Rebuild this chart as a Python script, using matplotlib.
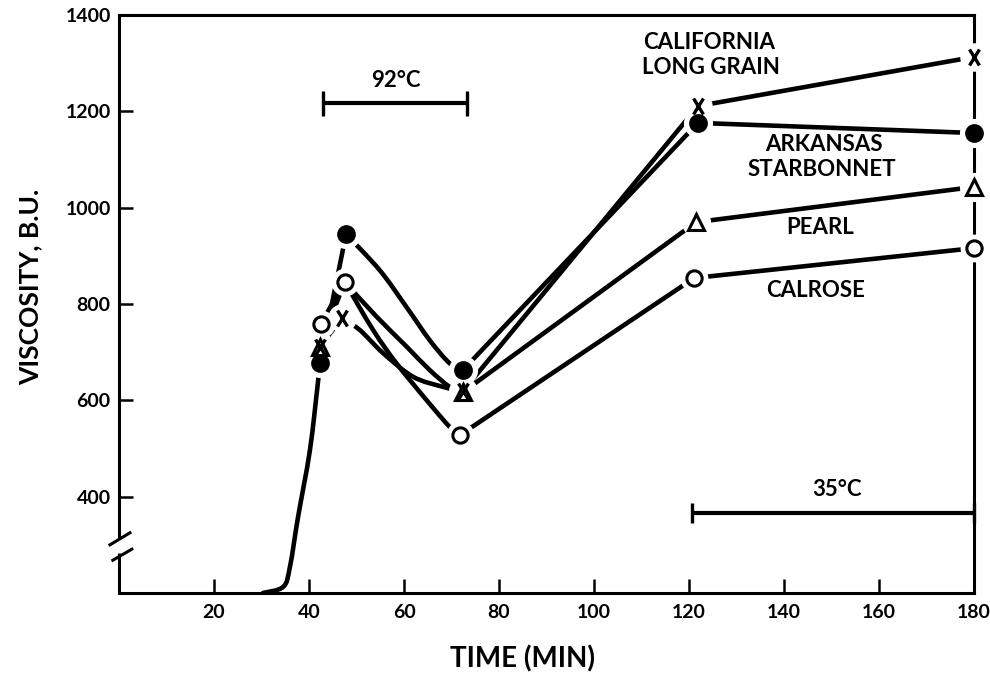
import numpy as np
import matplotlib
matplotlib.use("Agg")
import matplotlib.pyplot as plt
from matplotlib.path import Path
from matplotlib.patches import PathPatch

plt.rcParams['font.family'] = ['Lato', 'DejaVu Sans']
plt.rcParams['font.weight'] = 'bold'

# ---------------- data ----------------
# common heating trace (amylograph curve rising from baseline)
heat_t = [30.3, 34.6, 36.0, 37.7, 40.2, 41.9]
heat_v = [200, 213, 255, 358, 497, 639]

# marker points: start of hold, peak, end of 92C hold, start of 35C hold, end
ark_t = [42.3, 47.8, 72.4, 121.9, 180.0]
ark_v = [677, 945, 663, 1176, 1155]
calif_t = [42.3, 46.9, 72.4, 121.9, 180.0]
calif_v = [711, 771, 619, 1211, 1313]
pearl_t = [42.3, 47.5, 72.4, 121.5, 180.0]
pearl_v = [711, 846, 617, 970, 1043]
calrose_t = [42.5, 47.5, 71.8, 121.1, 180.0]
calrose_v = [759, 846, 528, 854, 916]

# traced points of the breakdown curves between peak and end of 92C hold
ark_dip_t = [54.9, 60.5, 65.4, 69.6]
ark_dip_v = [870, 794, 725, 677]
calif_dip_t = [50.7, 55.6, 61.9, 68.2]
calif_dip_v = [746, 698, 649, 628]
pearl_dip_t = [54.2, 60.5, 65.4, 69.6]
pearl_dip_v = [774, 712, 663, 628]
calrose_dip_t = [53.5, 58.4, 64.7, 69.6]
calrose_dip_v = [746, 677, 601, 545]

x_ticks = [20, 40, 60, 80, 100, 120, 140, 160, 180]
y_ticks = [400, 600, 800, 1000, 1200, 1400]

hold92 = [43.0, 73.2]
hold35 = [120.6, 180.0]

# ---------------- figure ----------------
fig = plt.figure(figsize=(9.9, 6.75), dpi=100)
ax = fig.add_axes([119 / 990, 82 / 675, 855 / 990, 578 / 675])
ax.set_xlim(0, 180)
ax.set_ylim(200, 1400)

LW = 3.3


def cr_segment(xs, ys):
    pts = np.column_stack([xs, ys]).astype(float)
    n = len(pts)
    verts, codes = [], []
    for i in range(n - 1):
        p0 = pts[i - 1] if i > 0 else pts[i]
        p1 = pts[i]
        p2 = pts[i + 1]
        p3 = pts[i + 2] if i + 2 < n else pts[i + 1]
        verts += [p1 + (p2 - p0) / 6.0, p2 - (p3 - p1) / 6.0, p2]
        codes += [Path.CURVE4] * 3
    return verts, codes


def draw_series(t, v, dip_t, dip_v):
    segs = [([t[0], t[1]], [v[0], v[1]]),
            ([t[1]] + dip_t + [t[2]], [v[1]] + dip_v + [v[2]]),
            ([t[2], t[3]], [v[2], v[3]]),
            ([t[3], t[4]], [v[3], v[4]])]
    verts = [(t[0], v[0])]
    codes = [Path.MOVETO]
    for xs, ys in segs:
        vv, cc = cr_segment(xs, ys)
        verts += vv
        codes += cc
    ax.add_patch(PathPatch(Path(verts, codes), fill=False, lw=LW, ec='black',
                           capstyle='round', joinstyle='round', zorder=1.5))


# heating trace into first filled-circle point
vv, cc = cr_segment(heat_t + [ark_t[0]], heat_v + [ark_v[0]])
ax.add_patch(PathPatch(Path([(heat_t[0], heat_v[0])] + vv, [Path.MOVETO] + cc),
                       fill=False, lw=LW, ec='black', capstyle='round', zorder=1.5))

draw_series(ark_t, ark_v, ark_dip_t, ark_dip_v)
draw_series(calif_t, calif_v, calif_dip_t, calif_dip_v)
draw_series(pearl_t, pearl_v, pearl_dip_t, pearl_dip_v)
draw_series(calrose_t, calrose_v, calrose_dip_t, calrose_dip_v)

# marker shapes
x_marker = Path([(-0.62, -1), (0.62, 1), (-0.62, 1), (0.62, -1)],
                [Path.MOVETO, Path.LINETO, Path.MOVETO, Path.LINETO])

series_markers = [
    (ark_t, ark_v, dict(marker='o', ms=12, mfc='black', mec='black', mew=1.5), None),
    (calrose_t, calrose_v, dict(marker='o', ms=11, mfc='white', mec='black', mew=2.2), None),
    (pearl_t, pearl_v, dict(marker='^', ms=12, mfc='white', mec='black', mew=2.2), [0, 2, 3, 4]),
    (calif_t, calif_v, dict(marker=x_marker, ms=11.5, mfc='none', mec='black', mew=2.4), None),
]

# white halos giving the gaps around symbols
for t, v, st, every in series_markers:
    idx = every if every is not None else list(range(len(t)))
    ax.plot([t[i] for i in idx], [v[i] for i in idx], ls='none', marker='o',
            ms=st['ms'] + 9, mfc='white', mec='white', mew=0, zorder=3, clip_on=False)

for t, v, st, every in series_markers:
    ax.plot(t, v, ls='none', markevery=every, zorder=4, clip_on=False, **st)

# temperature hold bars
ax.plot(hold92, [1217, 1217], color='black', lw=3.0, marker='|', ms=18, mew=2.4,
        solid_capstyle='butt', zorder=2)
ax.text(58.2, 1265, '92°C', ha='center', va='center', fontsize=16)
ax.plot(hold35, [367, 367], color='black', lw=3.0, marker='|', ms=14, mew=2.4,
        solid_capstyle='butt', zorder=2, clip_on=False)
ax.text(151.2, 414, '35°C', ha='center', va='center', fontsize=16)

# series labels
lab_fs = 16
ax.text(124.2, 1342, 'CALIFORNIA', ha='center', va='center', fontsize=lab_fs)
ax.text(124.7, 1292, 'LONG GRAIN', ha='center', va='center', fontsize=lab_fs)
ax.text(148.4, 1131, 'ARKANSAS', ha='center', va='center', fontsize=lab_fs)
ax.text(148.0, 1079, 'STARBONNET', ha='center', va='center', fontsize=lab_fs)
ax.text(147.6, 958, 'PEARL', ha='center', va='center', fontsize=lab_fs)
ax.text(146.7, 827, 'CALROSE', ha='center', va='center', fontsize=lab_fs)

# axes styling
for s in ['top', 'right', 'bottom', 'left']:
    ax.spines[s].set_linewidth(2.2)
    ax.spines[s].set_zorder(2.5)
ax.spines['left'].set_bounds(316, 1400)
ax.plot([0, 0], [200, 283], color='black', lw=2.2, clip_on=False,
        solid_capstyle='butt', zorder=2.5)
ax.plot([-1.9, 2.3], [300, 325], color='black', lw=2.2, clip_on=False, zorder=2.5)
ax.plot([-1.3, 2.7], [268, 291], color='black', lw=2.2, clip_on=False, zorder=2.5)

ax.set_xticks(x_ticks)
ax.set_xticklabels([str(v) for v in x_ticks])
ax.set_yticks(y_ticks)
ax.set_yticklabels([str(v) for v in y_ticks])
ax.tick_params(axis='both', direction='in', length=10, width=1.8, labelsize=14)
ax.tick_params(axis='x', pad=8)
ax.tick_params(axis='y', pad=6)

fig.text(522 / 990, 1 - 659 / 675, 'TIME (MIN)', ha='center', va='center', fontsize=20)
fig.text(30 / 990, 1 - 287 / 675, 'VISCOSITY, B.U.', ha='center', va='center',
         fontsize=19, rotation=90)

fig.savefig('out.png', dpi=100)
